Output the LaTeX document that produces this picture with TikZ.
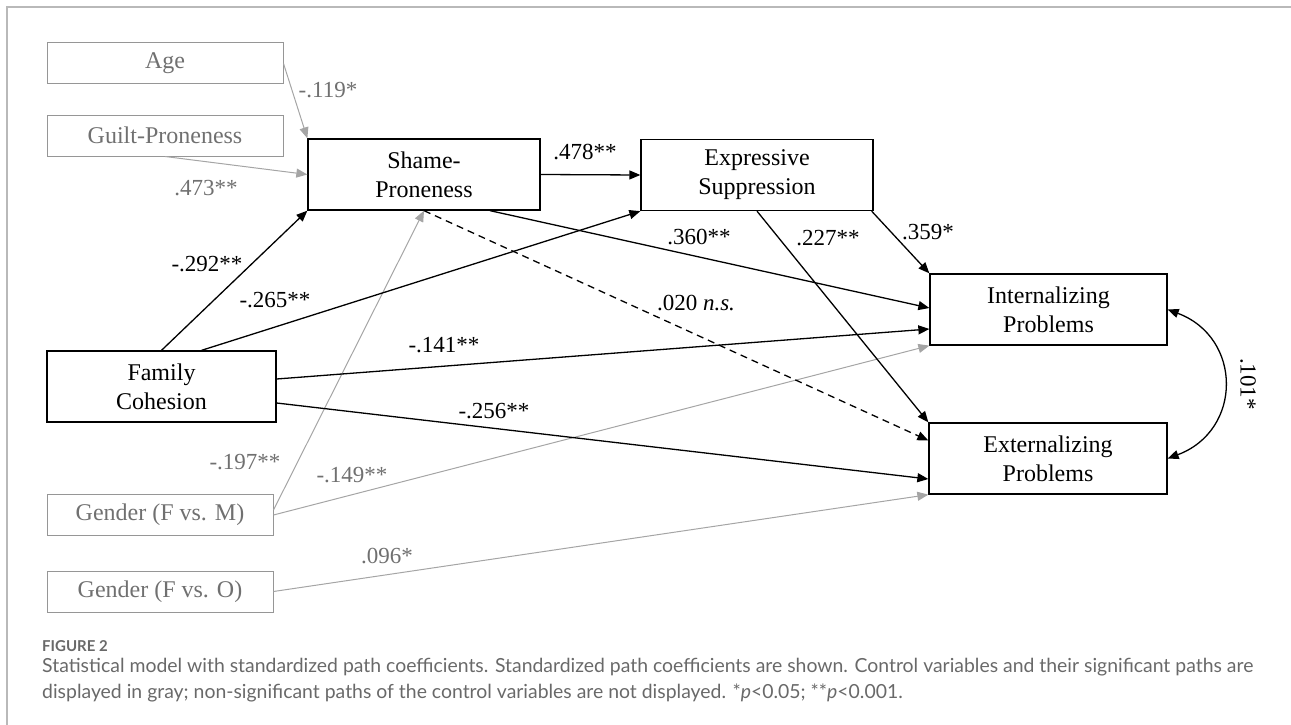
\documentclass[tikz,border=0pt]{standalone}
\usepackage{fontspec}
\setmainfont{Liberation Serif}
\newfontfamily\capfont{Lato}
\usetikzlibrary{arrows.meta}
\usepackage{xcolor}
\definecolor{ctrlgray}{RGB}{150,150,150}
\definecolor{ctrltext}{RGB}{112,112,112}
\definecolor{pathgray}{RGB}{165,165,165}
\definecolor{capgray}{RGB}{105,105,105}
\definecolor{framegray}{RGB}{185,185,185}
\newcommand{\diagfont}{\fontsize{24}{29}\selectfont}
\newcommand{\coeffont}{\fontsize{23}{27}\selectfont}

\tikzset{
  mainbox/.style={draw, line width=1.3pt, minimum width=232pt, minimum height=71pt,
    align=center, font=\diagfont, inner sep=0pt},
  ctrlbox/.style={draw=ctrlgray, line width=1pt, text=ctrltext, minimum width=236pt,
    minimum height=41pt, font=\diagfont, inner sep=0pt},
  coef/.style={font=\coeffont, inner sep=0pt},
  ctrlcoef/.style={coef, text=ctrltext},
  effect/.style={-{Triangle[length=11pt,width=9pt]}, line width=1.3pt},
  ctrleffect/.style={effect, draw=pathgray, line width=1pt}
}

\begin{document}
\begin{tikzpicture}[x=1pt,y=-1pt]
    \useasboundingbox (0,0) rectangle (1291,725);

    % Frame
    \draw[framegray, line width=1.5pt] (7,725) -- (7,7) -- (1291,7);

    % Control variables
    \node[ctrlbox] (age) at (165,63.5) {Age};
    \node[ctrlbox] (guilt) at (165,135.5) {Guilt-Proneness};
    \node[ctrlbox, minimum width=226pt] (gfm) at (160,515) {Gender (F vs. M)};
    \node[ctrlbox, minimum width=226pt] (gfo) at (160,591.5) {Gender (F vs. O)};

    % Model variables
    \node[mainbox] (shame) at (424,174.5) {Shame-\\Proneness};
    \node[mainbox] (expr) at (757,175) {Expressive\\Suppression};
    \node[mainbox, minimum width=229pt] (family) at (161.5,386.5) {Family\\Cohesion};
    \node[mainbox, minimum width=237pt] (intern) at (1048.5,309.5) {Internalizing\\Problems};
    \node[mainbox, minimum width=238pt] (extern) at (1048,458.5) {Externalizing\\Problems};

    % Paths of the control variables
    \draw[ctrleffect] (age.east) -- (shame.north west);
    \draw[ctrleffect] (guilt.south) -- (shame.west);
    \draw[ctrleffect] ([yshift=5pt]gfm.east) -- (shame.south);
    \draw[ctrleffect] (gfm.east) -- (intern.south west);
    \draw[ctrleffect] (gfo.east) -- (extern.south west);

    % Paths of the model
    \draw[effect] (shame.east) -- (expr.west);
    \draw[effect] (family.north) -- (shame.south west);
    \draw[effect] ([xshift=40pt]family.north) -- (expr.south west);
    \draw[effect] ([xshift=66pt]shame.south) -- ([yshift=1.5pt]intern.west);
    \draw[effect, dash pattern=on 7pt off 5pt] (shame.south) -- ([yshift=18pt]extern.west);
    \draw[effect] ([xshift=-2pt]expr.south east) -- (intern.north west);
    \draw[effect] (expr.south) -- (extern.north west);
    \draw[effect] ([yshift=7.5pt]family.east) -- ([yshift=-19.5pt]intern.west);
    \draw[effect] ([yshift=-16.5pt]family.east) -- ([yshift=-20.5pt]extern.west);
    \draw[effect, {Triangle[length=11pt,width=9pt]}-{Triangle[length=11pt,width=9pt]}]
        (intern.east) .. controls +(75,28) and +(75,-28) .. (extern.east);

    % Coefficients
    \node[ctrlcoef] (c119) at (328,90) {-.119*};
    \node[ctrlcoef] (c473) at (206,188) {.473**};
    \node[ctrlcoef] (c197) at (245,462) {-.197**};
    \node[ctrlcoef] (c149) at (352,475) {-.149**};
    \node[ctrlcoef] (c096) at (387,556) {.096*};
    \node[coef] (c478) at (585,152) {.478**};
    \node[coef] (c292) at (207,264) {-.292**};
    \node[coef] (c265) at (275,300) {-.265**};
    \node[coef] (c360) at (699,237) {.360**};
    \node[coef] (c227) at (828,238) {.227**};
    \node[coef] (c359) at (928,232) {.359*};
    \node[coef] (c020) at (696,303) {.020 \textit{n.s.}};
    \node[coef] (c141) at (444,345) {-.141**};
    \node[coef] (c256) at (494,411) {-.256**};
    \node[coef, rotate=-90] (c101) at (1248,384) {.101*};

    % Caption
    \node[anchor=base west, inner sep=0pt, text=capgray,
        font=\capfont\fontsize{15}{18}\selectfont\bfseries] (figlabel) at (42,651) {FIGURE 2};
    \node[anchor=base west, inner sep=0pt, text=capgray,
        font=\capfont\fontsize{19.4}{26}\selectfont] (capline1) at (42,672)
        {Statistical model with standardized path coefficients. Standardized path coefficients are shown. Control variables and their significant paths are};
    \node[anchor=base west, inner sep=0pt, text=capgray,
        font=\capfont\fontsize{19.4}{26}\selectfont] (capline2) at (42,698)
        {displayed in gray; non-significant paths of the control variables are not displayed. *\textit{p}<0.05; **\textit{p}<0.001.};

\end{tikzpicture}
\end{document}
